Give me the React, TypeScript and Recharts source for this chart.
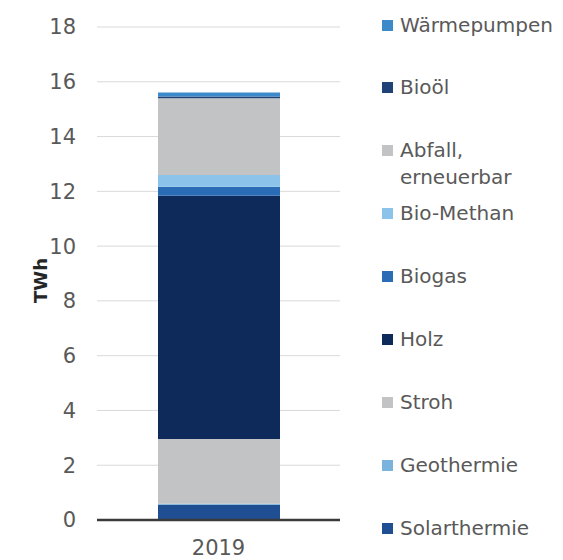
import React from 'react';
import { BarChart, Bar, XAxis, YAxis, CartesianGrid, Legend } from 'recharts';

const categories = ['2019'];
const seriesNames = ['Solarthermie', 'Geothermie', 'Stroh', 'Holz', 'Biogas', 'Bio-Methan', 'Abfall, erneuerbar', 'Bioöl', 'Wärmepumpen'];
const solarthermie = [0.56];
const geothermie = [0.03];
const stroh = [2.37];
const holz = [8.88];
const biogas = [0.33];
const bioMethan = [0.43];
const abfall = [2.8];
const biooel = [0.06];
const waermepumpen = [0.15];
const yTicks = [0, 2, 4, 6, 8, 10, 12, 14, 16, 18];
const colors = ['#1f4f92', '#7ab3dd', '#c1c3c5', '#0e2a5a', '#2b6cb6', '#8cc3ea', '#c1c3c5', '#1f4277', '#3d8acb'];

const seriesValues = [solarthermie, geothermie, stroh, holz, biogas, bioMethan, abfall, biooel, waermepumpen];
const keys = ['s0', 's1', 's2', 's3', 's4', 's5', 's6', 's7', 's8'];

const data = categories.map((c, i) => {
  const row: any = { name: c };
  seriesValues.forEach((arr, k) => { row[keys[k]] = arr[i]; });
  return row;
});

const FONT = '"DejaVu Sans", sans-serif';
const TEXT_COLOR = '#595959';

const LegendContent = () => {
  const items = seriesNames.map((n, i) => ({ name: n, color: colors[i] })).reverse();
  return (
    <div style={{ position: 'relative', width: 193, height: 560, fontFamily: FONT, fontSize: 20, color: TEXT_COLOR }}>
      {items.map((it, i) => {
        const cy = 25 + i * 62.9;
        const lines = it.name === 'Abfall, erneuerbar' ? ['Abfall,', 'erneuerbar'] : [it.name];
        return (
          <div key={it.name} style={{ position: 'absolute', left: 0, top: cy - 13.5, lineHeight: '27px' }}>
            <div style={{ position: 'absolute', left: 12, top: 8, width: 11, height: 11, background: it.color }} />
            <div style={{ position: 'absolute', left: 30, top: 0, whiteSpace: 'nowrap' }}>
              {lines.map((l) => <div key={l}>{l}</div>)}
            </div>
          </div>
        );
      })}
    </div>
  );
};

export default function App() {
  return (
    <div style={{ position: 'absolute', left: 0, top: 0, width: 563, height: 560, background: '#fff' }}>
      <BarChart width={563} height={560} data={data} margin={{ top: 27, right: 223, bottom: 0, left: 0 }}>
        <CartesianGrid vertical={false} stroke="#d9d9d9" strokeWidth={1} />
        <XAxis
          dataKey="name"
          height={40}
          tickLine={false}
          tickMargin={14}
          axisLine={{ stroke: '#3a3a3a', strokeWidth: 2.5 }}
          tick={{ fill: TEXT_COLOR, fontSize: 21, fontFamily: FONT }}
        />
        <YAxis
          width={97}
          domain={[0, 18]}
          ticks={yTicks}
          interval={0}
          axisLine={false}
          tickLine={false}
          tickMargin={15}
          tick={{ fill: TEXT_COLOR, fontSize: 21, fontFamily: FONT }}
          label={{
            content: (props: any) => {
              const vb = props.viewBox || { y: 27, height: 493 };
              const cy = vb.y + vb.height / 2 + 7;
              return (
                <text x={40} y={cy} transform={`rotate(-90, 40, ${cy})`} textAnchor="middle" dominantBaseline="central"
                  fill="#262626" fontSize={18} fontWeight="bold" fontFamily={FONT}>TWh</text>
              );
            },
          }}
        />
        {keys.map((k, i) => (
          <Bar key={k} dataKey={k} name={seriesNames[i]} stackId="a" fill={colors[i]} barSize={122} isAnimationActive={false} />
        ))}
        <Legend layout="vertical" align="center" verticalAlign="middle" content={<LegendContent />}
          wrapperStyle={{ position: 'absolute', left: 370, top: 0, width: 193, height: 560 }} />
      </BarChart>
    </div>
  );
}
